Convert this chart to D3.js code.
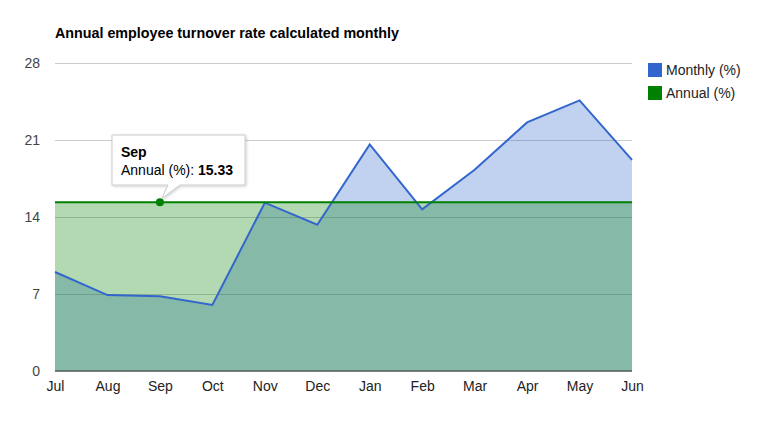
<!DOCTYPE html>
<html><head><meta charset="utf-8">
<script src="https://cdn.jsdelivr.net/npm/d3@7/dist/d3.min.js"></script>
<style>body{margin:0;background:#fff;font-family:"Liberation Sans",Arial,sans-serif;}</style>
</head><body><svg id="c" width="757" height="438"></svg>
<script>
const months = ["Jul","Aug","Sep","Oct","Nov","Dec","Jan","Feb","Mar","Apr","May","Jun"];
const monthly = [9.0, 6.9, 6.8, 6.0, 15.3, 13.3, 20.6, 14.7, 18.3, 22.6, 24.6, 19.2];
const annual = [15.33,15.33,15.33,15.33,15.33,15.33,15.33,15.33,15.33,15.33,15.33,15.33];
const yTicks = [0, 7, 14, 21, 28];
const seriesNames = ["Monthly (%)", "Annual (%)"];
const colors = ["#3366cc", "#008000"];
const title = "Annual employee turnover rate calculated monthly";
const tipIndex = 2;

const svg = d3.select("#c");
const L = 55, R = 632, T = 63, B = 371;
const x = d3.scalePoint().domain(months).range([L, R]);
const y = d3.scaleLinear().domain([0, 28]).range([B, T]);

svg.append("text").attr("x", 55).attr("y", 38).attr("font-size", 14.3).attr("font-weight", "bold").attr("fill", "#000").text(title);

// gridlines
const yAxis = d3.axisLeft(y).tickValues(yTicks).tickSize(-(R - L)).tickFormat(d => d);
const gy = svg.append("g").attr("transform", `translate(${L},0)`).call(yAxis);
gy.select(".domain").remove();
gy.selectAll(".tick line").attr("stroke", "#cccccc");
gy.selectAll(".tick text").attr("x", -15).attr("font-size", 14).attr("fill", "#444").attr("font-family", "Liberation Sans, Arial, sans-serif");

const series = [monthly, annual];
const area = d3.area().x((d, i) => x(months[i])).y0(y(0)).y1(d => y(d));
const line = d3.line().x((d, i) => x(months[i])).y(d => y(d));
series.forEach((s, k) => {
  svg.append("path").attr("d", area(s)).attr("fill", colors[k]).attr("fill-opacity", 0.3);
});
series.forEach((s, k) => {
  svg.append("path").attr("d", line(s)).attr("fill", "none").attr("stroke", colors[k]).attr("stroke-width", 2);
});
// baseline
svg.append("line").attr("x1", L).attr("x2", R).attr("y1", y(0)).attr("y2", y(0)).attr("stroke", "#333").attr("stroke-width", 1);

// x axis labels
const xAxis = d3.axisBottom(x).tickSize(0).tickPadding(10);
const gx = svg.append("g").attr("transform", `translate(0,${B})`).call(xAxis);
gx.select(".domain").remove();
gx.selectAll(".tick text").attr("font-size", 14).attr("fill", "#222").attr("font-family", "Liberation Sans, Arial, sans-serif");

// legend
seriesNames.forEach((n, k) => {
  const ly = 63 + k * 23;
  svg.append("rect").attr("x", 648).attr("y", ly).attr("width", 14).attr("height", 14).attr("fill", colors[k]);
  svg.append("text").attr("x", 666).attr("y", ly + 12).attr("font-size", 14).attr("fill", "#222").text(n);
});

// tooltip
const px = x(months[tipIndex]), py = y(annual[tipIndex]);
const tg = svg.append("g");
const bx = 112, by = 135, bw = 133, bh = 50;
const defs = svg.append("defs");
const f = defs.append("filter").attr("id", "sh").attr("x", "-20%").attr("y", "-20%").attr("width", "140%").attr("height", "140%");
f.append("feDropShadow").attr("dx", 1).attr("dy", 1).attr("stdDeviation", 1.5).attr("flood-color", "#000").attr("flood-opacity", 0.2);
tg.append("path")
  .attr("d", `M${bx},${by} H${bx+bw} V${by+bh} H${px+20} L${px+2},${py-4} L${px+8},${by+bh} H${bx} Z`)
  .attr("fill", "#fff").attr("stroke", "#cccccc").attr("stroke-width", 1).attr("filter", "url(#sh)");
tg.append("text").attr("x", 121).attr("y", 157).attr("font-size", 14).attr("font-weight", "bold").attr("fill", "#000").text(months[tipIndex]);
const t2 = tg.append("text").attr("x", 121).attr("y", 175).attr("font-size", 14).attr("fill", "#000");
t2.append("tspan").text(seriesNames[1] + ": ");
t2.append("tspan").attr("font-weight", "bold").text(annual[tipIndex].toFixed(2));
svg.append("circle").attr("cx", px).attr("cy", py).attr("r", 4).attr("fill", colors[1]);
</script></body></html>
